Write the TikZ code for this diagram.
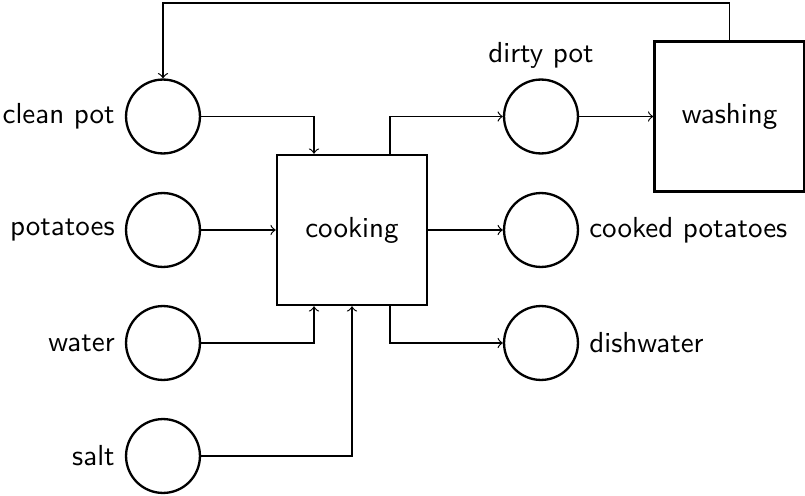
\documentclass[tikz,border=0pt]{standalone}
\renewcommand{\familydefault}{\sfdefault}
\begin{document}
\begin{tikzpicture}[x=0.345pt,y=0.345pt,
  place/.style={circle,draw,thick,minimum size=25.5pt,inner sep=0pt},
  trans/.style={rectangle,draw,thick,minimum size=51.8pt,inner sep=0pt},
  flow/.style={->}]
\useasboundingbox (0,0) rectangle (805,495);
\node[place,label=left:clean pot] (cp) at (163,378.5) {};
\node[place,label=left:potatoes] (pot) at (163,265) {};
\node[place,label=left:water] (water) at (163,152) {};
\node[place,label=left:salt] (salt) at (163,39) {};
\node[trans] (cook) at (352,265) {cooking};
\node[place,label=above:dirty pot] (dirty) at (541,378.5) {};
\node[place,label=right:cooked potatoes] (cooked) at (541,265) {};
\node[place,label=right:dishwater] (dish) at (541,152) {};
\node[trans] (wash) at (729.5,378.5) {washing};
\coordinate (top) at (729.5,492);
\draw[flow] (cp.east) -| ([xshift=-38pt*0.345]cook.north);
\draw[flow] (pot.east) -- (cook.west);
\draw[flow] (water.east) -| ([xshift=-38pt*0.345]cook.south);
\draw[flow] (salt.east) -| (cook.south);
\draw[flow] ([xshift=38pt*0.345]cook.north) |- (dirty.west);
\draw[flow] (cook.east) -- (cooked.west);
\draw[flow] ([xshift=38pt*0.345]cook.south) |- (dish.west);
\draw[flow] (dirty.east) -- (wash.west);
\draw[flow] (wash.north) -- (top) -| (cp.north);
\end{tikzpicture}
\end{document}
